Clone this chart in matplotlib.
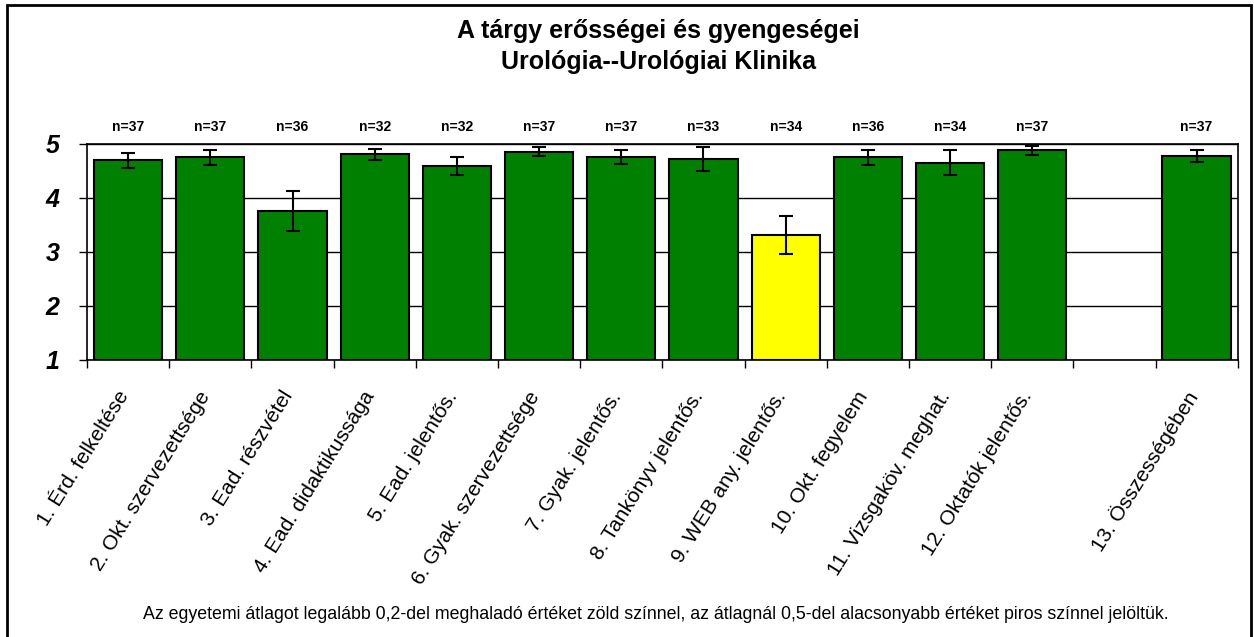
import matplotlib
matplotlib.use('Agg')
import matplotlib.pyplot as plt
from matplotlib.patches import Rectangle
from matplotlib.transforms import ScaledTranslation
import numpy as np

plt.rcParams['font.family'] = ['Liberation Sans', 'DejaVu Sans']

# adatok
labels = ['1. Érd. felkeltése', '2. Okt. szervezettsége', '3. Ead. részvétel',
          '4. Ead. didaktikussága', '5. Ead. jelentős.', '6. Gyak. szervezettsége',
          '7. Gyak. jelentős.', '8. Tankönyv jelentős.', '9. WEB any. jelentős.',
          '10. Okt. fegyelem', '11. Vizsgaköv. meghat.', '12. Oktatók jelentős.',
          '', '13. Összességében']
means = [4.70, 4.75, 3.75, 4.81, 4.59, 4.86, 4.75, 4.72, 3.32, 4.75, 4.65, 4.88, None, 4.78]
errors = [0.14, 0.145, 0.37, 0.105, 0.16, 0.09, 0.13, 0.215, 0.355, 0.145, 0.23, 0.09, None, 0.105]
counts = [37, 37, 36, 32, 32, 37, 37, 33, 34, 36, 34, 37, None, 37]
colors = ['#008000'] * 8 + ['#FFFF00'] + ['#008000'] * 3 + [None, '#008000']

fig = plt.figure(figsize=(12.54, 6.37), dpi=100)
ax = fig.add_axes([0.0694, 0.4349, 0.9176, 0.3391])

idx = [i for i, m in enumerate(means) if m is not None]
x = np.array(idx)
vals = np.array([means[i] for i in idx])
errs = np.array([errors[i] for i in idx])
cols = [colors[i] for i in idx]

ax.bar(x, vals - 1, bottom=1, width=0.83, color=cols, edgecolor='black', linewidth=1.5, zorder=3)
ax.errorbar(x, vals, yerr=errs, fmt='none', ecolor='black', elinewidth=1.5,
            capsize=5, capthick=1.5, zorder=4)

for i in idx:
    ax.text(i, 1.08, f'n={counts[i]}', transform=ax.get_xaxis_transform(),
            ha='center', va='center', fontsize=10, fontweight='bold')

ax.set_xlim(-0.5, len(labels) - 0.5)
ax.set_ylim(1, 5)
ax.set_yticks([1, 2, 3, 4, 5])
ax.set_yticklabels(['1', '2', '3', '4', '5'], fontsize=18, fontweight='bold', style='italic')
ax.yaxis.grid(True, color='black', linewidth=1, zorder=0)
ax.set_axisbelow(True)
ax.tick_params(axis='y', length=6, width=1, pad=14, direction='out')

ax.set_xticks(np.arange(len(labels)))
ax.set_xticklabels(labels, rotation=58, ha='right', va='top', rotation_mode='anchor', fontsize=15)
ax.set_xticks(np.arange(len(labels) + 1) - 0.5, minor=True)
ax.tick_params(axis='x', which='major', length=0, pad=20)
ax.tick_params(axis='x', which='minor', length=6, width=1, direction='out')
shift = ScaledTranslation(-0.12, 0, fig.dpi_scale_trans)
for lbl in ax.get_xticklabels():
    lbl.set_transform(lbl.get_transform() + shift)

for s in ax.spines.values():
    s.set_linewidth(1.2)
    s.set_color('black')

fig.text(0.525, 0.952, 'A tárgy erősségei és gyengeségei', ha='center', va='center',
         fontsize=18, fontweight='bold')
fig.text(0.525, 0.903, 'Urológia--Urológiai Klinika', ha='center', va='center',
         fontsize=18, fontweight='bold')
fig.text(0.523, 0.036, 'Az egyetemi átlagot legalább 0,2-del meghaladó értéket zöld színnel, '
         'az átlagnál 0,5-del alacsonyabb értéket piros színnel jelöltük.',
         ha='center', va='center', fontsize=12.8)

fig.patches.append(Rectangle((7 / 1254, -0.05), 1244 / 1254, 1.05 - 5 / 637,
                             transform=fig.transFigure, fill=False,
                             edgecolor='black', linewidth=2))

fig.savefig('out.png', dpi=100)
